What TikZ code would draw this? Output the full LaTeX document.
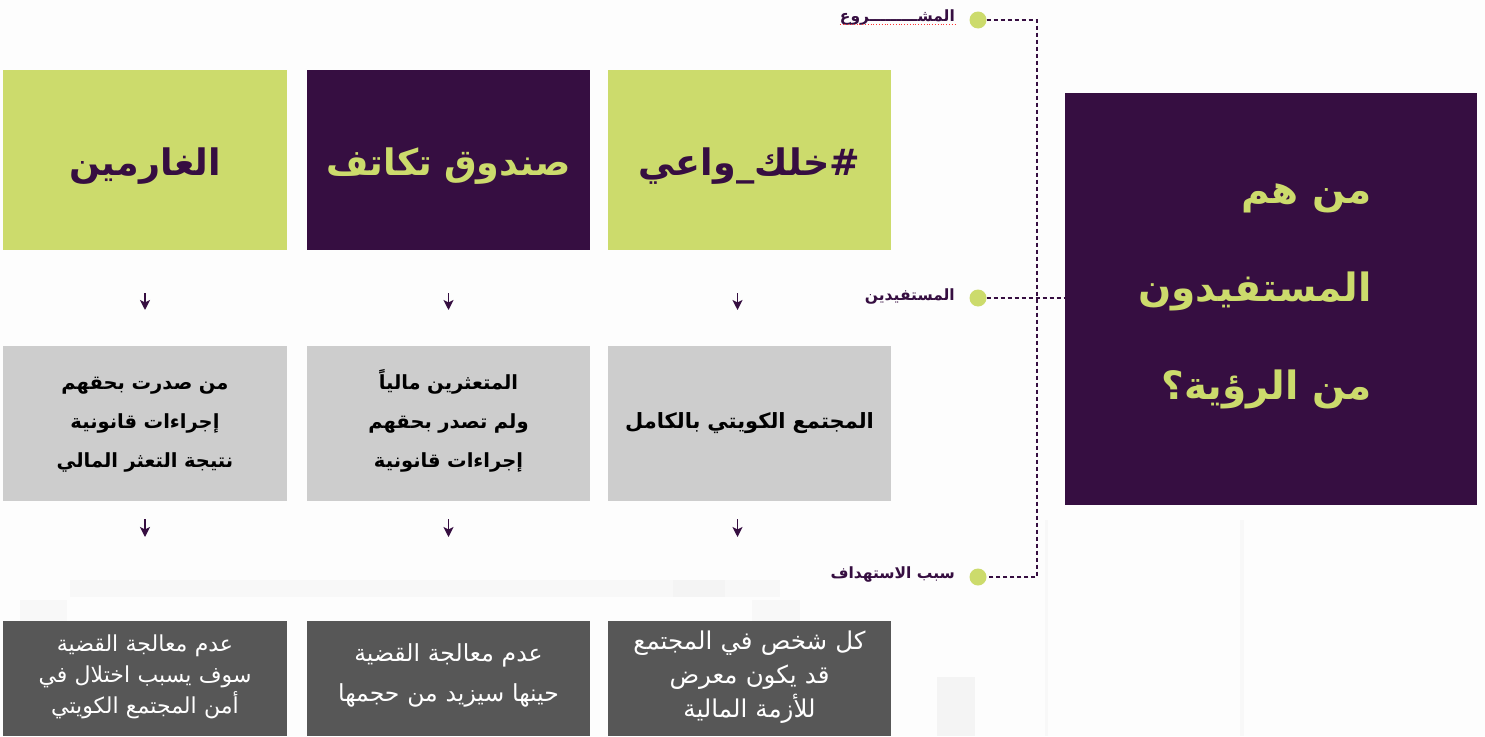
\documentclass[tikz,border=0pt]{standalone}
\usepackage{fontspec}
\TeXXeTstate=1
\newfontfamily\arabicfont[Script=Arabic]{DejaVu Sans}
\def\liftamt{0pt}
\newcommand{\ar}[1]{\rule[-.25em]{0pt}{1.1em}\raisebox{\liftamt}[0pt][0pt]{\beginR #1\endR}}
\definecolor{limeb}{HTML}{CCDB6C}
\definecolor{purp}{HTML}{360E41}
\definecolor{grayb}{HTML}{CDCDCD}
\definecolor{darkb}{HTML}{575757}
\definecolor{bgbase}{HTML}{FDFDFD}
\definecolor{bgfaint}{HTML}{F8F8F8}
\definecolor{bgmid}{HTML}{F4F4F4}
\usetikzlibrary{arrows.meta}
\tikzset{
 x=1pt,y=-1pt,
 box/.style={anchor=north west,inner sep=0pt,outer sep=0pt,minimum width=283pt,align=center,text width=283pt},
 headbox/.style={box,minimum height=180.5pt,text depth=-7pt,font=\arabicfont\bfseries\fontsize{36.5}{40}\selectfont},
 limehead/.style={headbox,fill=limeb,text=purp},
 purphead/.style={headbox,fill=purp,text=limeb},
 midbox/.style={box,fill=grayb,text=black,minimum height=155pt,execute at begin node={\def\liftamt{1pt}},font=\arabicfont\bfseries\fontsize{#1}{39}\selectfont},
 lowbox/.style n args={3}{box,fill=darkb,text=white,minimum height=115pt,execute at begin node={\def\liftamt{#3}},font=\arabicfont\fontsize{#1}{#2}\selectfont},
 lab/.style={anchor=east,inner sep=0pt,text=purp,font=\arabicfont\bfseries\fontsize{15.5}{18}\selectfont},
 dotn/.style={circle,fill=limeb,minimum size=17pt,inner sep=0pt},
 dashline/.style={draw=purp,line width=1.6pt,dash pattern=on 4pt off 3pt},
 arr/.style={draw=purp,line width=1.8pt,-{Stealth[length=10pt,width=10pt,inset=2.5pt]}},
}
\begin{document}
\begin{tikzpicture}
\useasboundingbox (0,0) rectangle (1485,736);
\fill[bgbase] (0,0) rectangle (1485,736);
% faint background
\fill[bgfaint] (70,580) rectangle (780,597);
\fill[bgmid] (673,580) rectangle (725,597);
\fill[bgfaint] (20,600) rectangle (67,621);
\fill[bgfaint] (752,600) rectangle (800,621);
\fill[bgmid] (937,677) rectangle (975,736);
\fill[bgfaint] (1240,520) rectangle (1244,736);
\fill[bgfaint] (1045,520) rectangle (1048,736);

\node[limehead] (h3) at (608,69.5) {\ar{\#خلك\_واعي}};
\node[purphead] (h2) at (307,69.5) {\ar{صندوق تكاتف}};
\node[limehead,minimum width=284pt,text width=284pt] (h1) at (3,69.5) {\ar{الغارمين}};

\node[midbox=21] (m3) at (608,346) {\ar{المجتمع الكويتي بالكامل}};
\node[midbox=19.5] (m2) at (307,346) {\ar{المتعثرين مالياً}\\\ar{ولم تصدر بحقهم}\\\ar{إجراءات قانونية}};
\node[midbox=19.5,minimum width=284pt,text width=284pt] (m1) at (3,346) {\ar{من صدرت بحقهم}\\\ar{إجراءات قانونية}\\\ar{نتيجة التعثر المالي}};

\node[lowbox={24.5}{34}{2pt}] (l3) at (608,621) {\ar{كل شخص في المجتمع}\\\ar{قد يكون معرض}\\\ar{للأزمة المالية}};
\node[lowbox={23.5}{40}{4pt}] (l2) at (307,621) {\ar{عدم معالجة القضية}\\\ar{حينها سيزيد من حجمها}};
\node[lowbox={22}{31}{3pt},minimum width=284pt,text width=284pt] (l1) at (3,621) {\ar{عدم معالجة القضية}\\\ar{سوف يسبب اختلال في}\\\ar{أمن المجتمع الكويتي}};

\node[anchor=north west,inner sep=0pt,fill=purp,minimum width=412pt,minimum height=412pt] (big) at (1065,93) {};
\node[anchor=east,inner sep=0pt,text=limeb,align=right,font=\arabicfont\bfseries\fontsize{39}{98}\selectfont] (bigt) at (1372,289.5) {\ar{من هم}\\\ar{المستفيدون}\\\ar{من الرؤية؟}};

\node[dotn] (d1) at (978,20) {};
\node[dotn] (d2) at (978,298) {};
\node[dotn] (d3) at (978,577) {};
\node[lab] (t1) at (955,17) {\ar{المشـــــــــروع}};
\node[lab] (t2) at (955,296) {\ar{المستفيدين}};
\node[lab] (t3) at (955,574) {\ar{سبب الاستهداف}};

\draw[red!80!white,line width=.8pt,dotted] (t1.south west |- 0,24) -- (t1.south east |- 0,24);

\coordinate (c1) at (1037,20);
\coordinate (c3) at (1037,577);
\coordinate (e2) at (1065,298);
\draw[dashline] (d1) -- (c1) -- (c3) -- (d3);
\draw[dashline] (d2) -- (e2);

\foreach \n/\x in {a/145,b/448.5,c/737.5}{
 \coordinate (\n s1) at (\x,293); \coordinate (\n e1) at (\x,310);
 \coordinate (\n s2) at (\x,519); \coordinate (\n e2) at (\x,537);
 \draw[arr] (\n s1) -- (\n e1);
 \draw[arr] (\n s2) -- (\n e2);
}
\end{tikzpicture}
\end{document}
